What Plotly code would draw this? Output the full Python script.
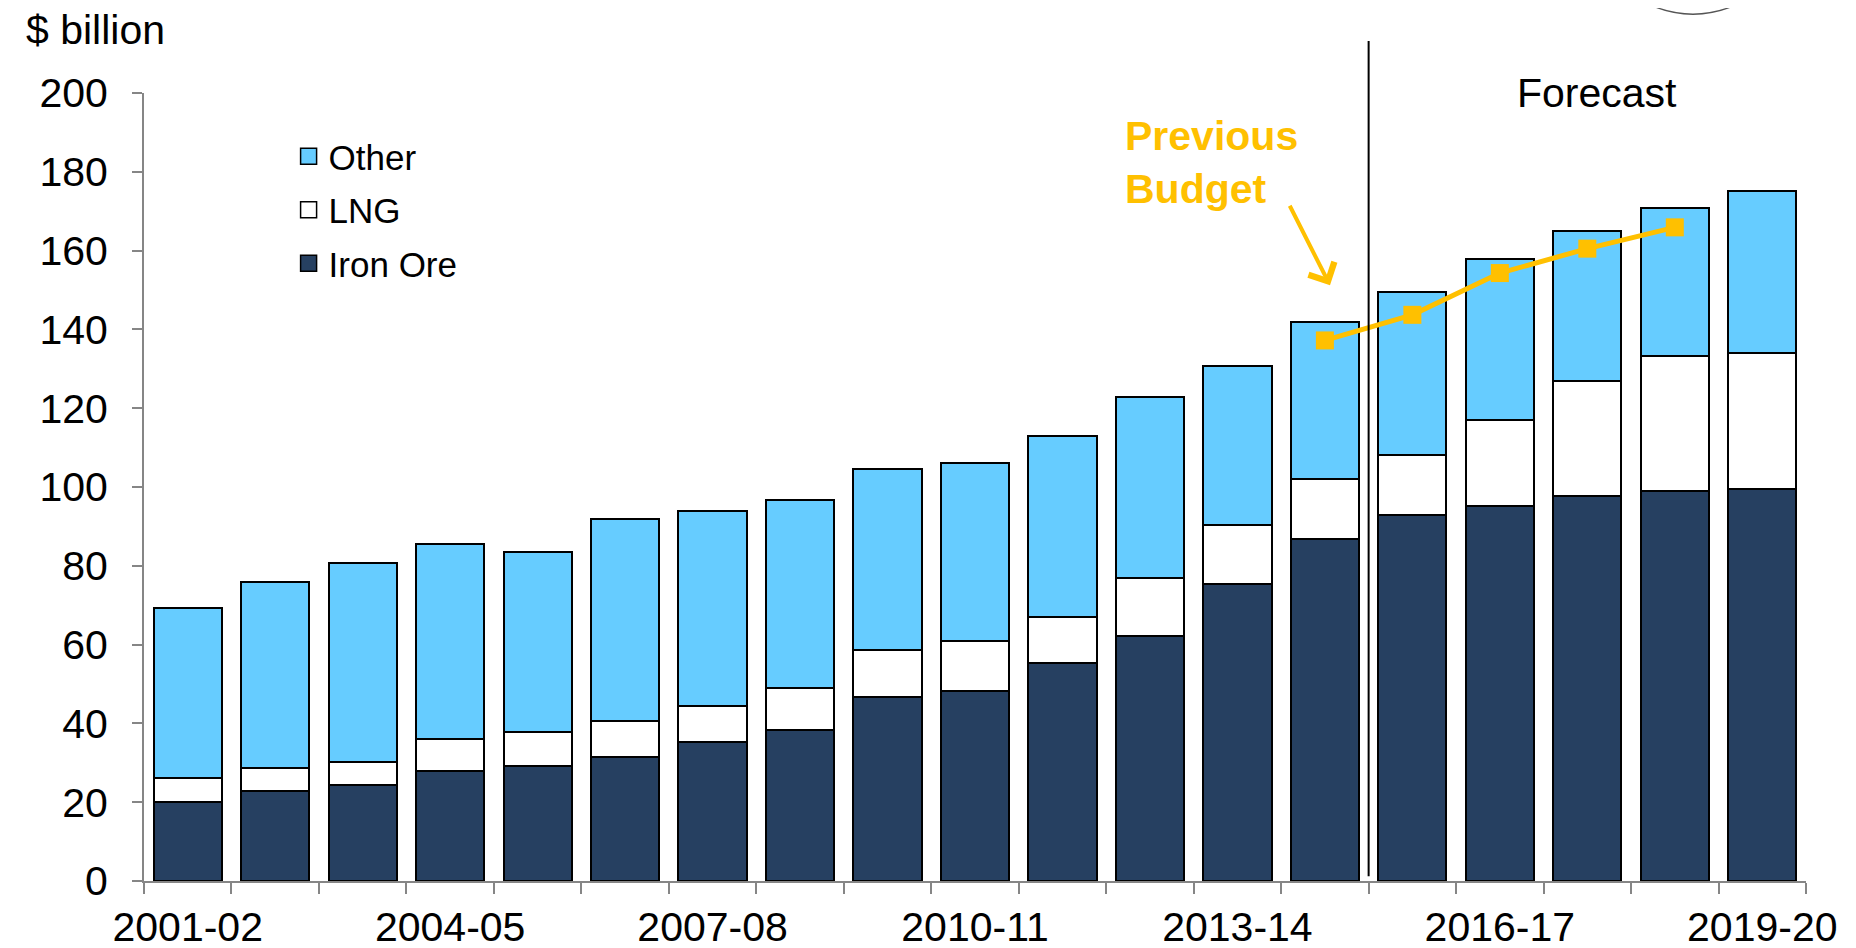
import plotly.graph_objects as go

years = ['2001-02', '2002-03', '2003-04', '2004-05', '2005-06', '2006-07',
         '2007-08', '2008-09', '2009-10', '2010-11', '2011-12', '2012-13',
         '2013-14', '2014-15', '2015-16', '2016-17', '2017-18', '2018-19',
         '2019-20']

# stacked tops ($ billion)
iron_ore = [20.1, 22.8, 24.3, 27.9, 29.1, 31.5, 35.4, 38.4, 46.8, 48.3,
            55.3, 62.2, 75.4, 86.9, 93.0, 95.1, 97.6, 99.1, 99.4]
iron_lng = [26.1, 28.8, 30.3, 36.0, 37.8, 40.5, 44.4, 48.9, 58.6, 61.0,
            67.0, 76.9, 90.4, 102.1, 108.2, 116.9, 127.0, 133.2, 134.0]
total = [69.4, 76.0, 80.8, 85.6, 83.5, 91.9, 94.0, 96.7, 104.5, 106.0,
         112.9, 122.8, 130.6, 141.8, 149.6, 157.9, 165.1, 170.8, 175.1]

prev_years = ['2014-15', '2015-16', '2016-17', '2017-18', '2018-19']
prev_budget = [137.2, 143.7, 154.3, 160.5, 165.9]

series = ['Iron Ore', 'LNG', 'Other']
colors = ['#264061', 'white', '#66CCFF']

lng = [round(b - a, 1) for a, b in zip(iron_ore, iron_lng)]
other = [round(b - a, 1) for a, b in zip(iron_lng, total)]

xs = list(range(len(years)))
prev_x = [years.index(y) for y in prev_years]

FONT = 'Liberation Sans, Arial, sans-serif'
GOLD = '#FFC000'
outline = dict(color='black', width=2)

fig = go.Figure()
for name, vals, col in zip(series, [iron_ore, lng, other], colors):
    fig.add_trace(go.Bar(x=xs, y=vals, name=name, showlegend=False,
                         marker=dict(color=col, line=outline)))

# bigger square swatches for the legend, top of the stack listed first
for name, col in zip(series[::-1], colors[::-1]):
    fig.add_trace(go.Scatter(x=[None], y=[None], mode='markers', name=name,
                             legendgroup=name,
                             marker=dict(symbol='square', size=16, color=col,
                                         line=dict(color='black', width=1.5))))

fig.add_trace(go.Scatter(x=prev_x, y=prev_budget, mode='lines+markers',
                         line=dict(color=GOLD, width=5),
                         marker=dict(symbol='square', size=18, color=GOLD),
                         showlegend=False))

fig.update_layout(
    barmode='stack',
    bargap=0.22,
    width=1856, height=948,
    margin=dict(l=136, r=58, t=85, b=75),
    plot_bgcolor='white', paper_bgcolor='white',
    font=dict(family=FONT, size=41, color='black'),
    legend=dict(x=0.087, y=0.957, xanchor='left', yanchor='top',
                traceorder='grouped', tracegroupgap=5,
                itemsizing='trace',
                font=dict(size=35), bgcolor='rgba(0,0,0,0)'),
    xaxis=dict(range=[-0.5, 18.5], tickmode='array',
               tickvals=xs[::3], ticktext=years[::3], ticks='',
               ticklabelstandoff=9, automargin=False,
               showline=True, linecolor='#868686', linewidth=2,
               showgrid=False, zeroline=False,
               minor=dict(tickmode='array',
                          tickvals=[i - 0.5 for i in xs] + [xs[-1] + 0.5],
                          ticks='outside', ticklen=11, tickcolor='#868686',
                          tickwidth=2, showgrid=False)),
    yaxis=dict(range=[0, 200], dtick=20, ticks='outside', ticklen=10,
               tickcolor='#868686', tickwidth=2, ticklabelstandoff=16,
               automargin=False,
               showline=True, linecolor='#868686', linewidth=2,
               showgrid=False, zeroline=False),
    shapes=[
        dict(type='line', xref='x', yref='paper', x0=13.5, x1=13.5,
             y0=0.006, y1=1.066, line=dict(color='black', width=2)),
        dict(type='circle', xref='paper', yref='paper',
             x0=0.872, x1=0.992, y0=1.1, y1=1.345,
             line=dict(color='#555555', width=1.5)),
    ],
    annotations=[
        dict(text='$ billion', xref='paper', yref='paper', x=-0.072, y=1.08,
             xanchor='left', yanchor='middle', showarrow=False),
        dict(text='Forecast', xref='paper', yref='paper', x=0.874, y=1.0,
             xanchor='center', yanchor='middle', showarrow=False),
        dict(text='<b>Previous<br>Budget</b>', xref='paper', yref='paper',
             x=0.589, y=0.912, xanchor='left', yanchor='middle', align='left',
             font=dict(color=GOLD, size=41), showarrow=False),
        dict(text='', xref='paper', yref='paper', x=0.7136, y=0.756,
             ax=-41, ay=-81, showarrow=True, arrowhead=4, arrowsize=1.4,
             arrowwidth=4, arrowcolor=GOLD),
    ],
)

fig.write_html('out.html')
